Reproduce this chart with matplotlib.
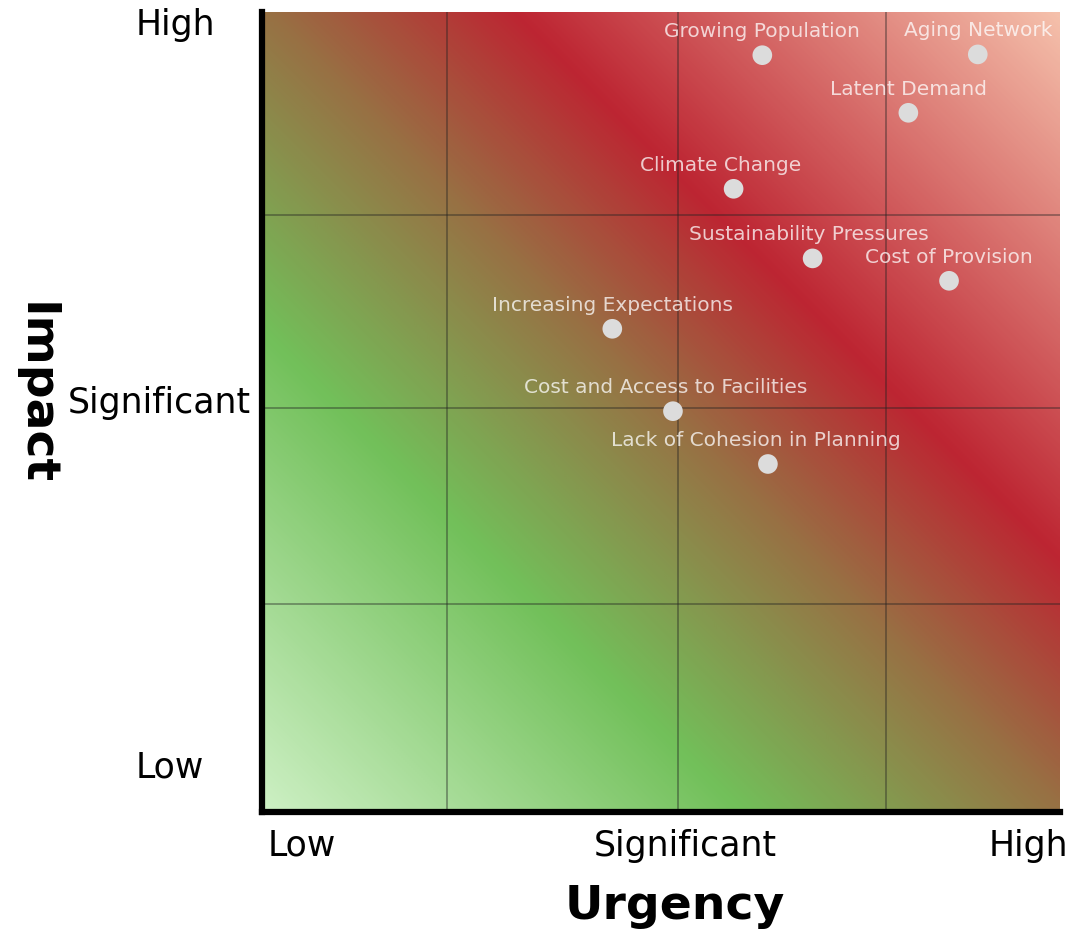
import numpy as np
import matplotlib
matplotlib.use("Agg")
import matplotlib.pyplot as plt
import matplotlib.transforms as mtransforms
from matplotlib.colors import LinearSegmentedColormap

# risk items: urgency (x) and impact (y), 0-100 scale
labels = ["Growing Population", "Aging Network", "Latent Demand", "Climate Change",
          "Sustainability Pressures", "Cost of Provision", "Increasing Expectations",
          "Cost and Access to Facilities", "Lack of Cohesion in Planning"]
urgency = [62.7, 89.7, 81.0, 59.1, 69.0, 86.1, 43.9, 51.5, 63.4]
impact = [94.6, 94.7, 87.4, 77.9, 69.2, 66.4, 60.4, 50.1, 43.5]

x_tick_pos = [5, 53, 96]
y_tick_pos = [6, 51.5, 98.8]
tick_names = ["Low", "Significant", "High"]

grid_x = [23.2, 52.1, 78.2]
grid_y = [26.0, 50.5, 74.6]

# label x-offsets (points) so texts sit like the original
label_dx = [0, 0, 0, -9, -3, 0, 0, -5, -9]

fig = plt.figure(figsize=(10.76, 9.3), dpi=100)
ax = fig.add_axes([0.2435, 0.1269, 0.7416, 0.8602])

# diagonal background gradient green -> red
cmap = LinearSegmentedColormap.from_list("risk", [
    (0.0, "#cdf0c4"), (0.30, "#72c05a"), (0.50, "#977244"),
    (0.66, "#bd2532"), (1.0, "#f5c0ab")])
gx, gy = np.meshgrid(np.linspace(0, 100, 400), np.linspace(0, 100, 400))
ax.imshow((gx + gy) / 200, cmap=cmap, vmin=0, vmax=1, origin="lower",
          extent=[0, 100, 0, 100], aspect="auto", interpolation="bilinear", zorder=0)

for gxv in grid_x:
    ax.axvline(gxv, color="#222222", alpha=0.5, lw=1.1, zorder=1)
for gyv in grid_y:
    ax.axhline(gyv, color="#222222", alpha=0.5, lw=1.1, zorder=1)

ax.scatter(urgency, impact, s=200, color="#dcdcdc", edgecolor="none", zorder=3)
for name, x, y, dx in zip(labels, urgency, impact, label_dx):
    ax.annotate(name, (x, y), xytext=(dx, 17), textcoords="offset points",
                ha="center", va="center", fontsize=14.5, color="white",
                alpha=0.75, zorder=4)

ax.set_xlim(0, 100)
ax.set_ylim(0, 100)

for s in ["top", "right"]:
    ax.spines[s].set_visible(False)
for s in ["left", "bottom"]:
    ax.spines[s].set_linewidth(4.5)
    ax.spines[s].set_color("black")

ax.set_xticks(x_tick_pos, tick_names, fontsize=25)
ax.set_yticks(y_tick_pos, tick_names, fontsize=25)
ax.tick_params(axis="both", length=0)
ax.tick_params(axis="x", pad=12)
ax.tick_params(axis="y", pad=68)
# "Low"/"High" start at the same left edge, "Significant" sits a bit left
for lbl in ax.get_yticklabels():
    if lbl.get_text() == "Significant":
        lbl.set_horizontalalignment("center")
        shift = -0.08
    else:
        lbl.set_horizontalalignment("left")
        shift = -0.32
    lbl.set_transform(lbl.get_transform() +
                      mtransforms.ScaledTranslation(shift, 0, fig.dpi_scale_trans))

ax.set_xlabel("Urgency", fontsize=34, fontweight="bold", va="center")
ax.xaxis.set_label_coords(0.5175, -0.118)
ax.set_ylabel("Impact", fontsize=34, fontweight="bold", rotation=270, va="center")
ax.yaxis.set_label_coords(-0.2845, 0.5225)

plt.savefig("out.png", dpi=100)
